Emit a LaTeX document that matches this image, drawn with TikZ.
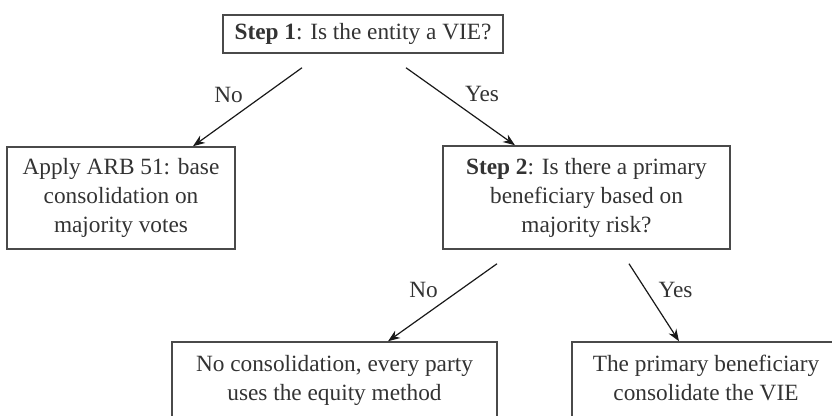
\documentclass[tikz,border=0pt]{standalone}
\usepackage{fontspec}
\setmainfont{Liberation Serif}
\usetikzlibrary{arrows.meta}
\definecolor{ink}{HTML}{333333}
\definecolor{frame}{HTML}{4A4A4A}
\newcommand{\stepword}[1]{\textbf{#1}}
% top-aligned text for the boxes cut off at the bottom
\newcommand{\topbox}[2]{\parbox[c][51pt][t]{#1}{\centering\rule{0pt}{15pt}#2}}

\begin{document}
\begin{tikzpicture}[x=0.5pt, y=-0.5pt,
  box/.style={draw=frame, line width=0.75pt, align=center, inner sep=0pt,
              font=\fontsize{11.65}{14.5}\selectfont, text=ink},
  arr/.style={-{Stealth[length=6pt,width=4.5pt]}, line width=0.6pt, draw=black!90},
  lbl/.style={font=\fontsize{11.65}{14.5}\selectfont, text=ink, midway, inner sep=2pt}]
  \useasboundingbox (0,0) rectangle (832,416);

  \node[box, minimum width=140pt, minimum height=19pt] (step1) at (363,34)
    {\stepword{Step 1}: Is the entity a VIE?};
  \node[box, minimum width=114pt, minimum height=51pt] (apply) at (121,198)
    {Apply ARB 51: base\\consolidation on\\majority votes};
  \node[box, minimum width=143.5pt, minimum height=51.5pt] (step2) at (586.5,197.5)
    {\stepword{Step 2}: Is there a primary\\beneficiary based on\\majority risk?};
  \node[box] (noconsol) at (334.5,393)
    {\topbox{162.5pt}{No consolidation, every party\\uses the equity method}};
  \node[box] (primary) at (706,393)
    {\topbox{134pt}{The primary beneficiary\\consolidate the VIE}};

  \draw[arr] ([shift={(-61,14)}]step1.south) -- ([shift={(72,0)}]apply.north)
    node[lbl, above left] {No};
  \draw[arr] ([shift={(43,14)}]step1.south) -- ([shift={(-71.5,0)}]step2.north)
    node[lbl, above right] {Yes};
  \draw[arr] ([shift={(-89.5,14)}]step2.south) -- ([shift={(53.5,0)}]noconsol.north)
    node[lbl, above left] {No};
  \draw[arr] ([shift={(42.5,14)}]step2.south) -- ([shift={(-27,0)}]primary.north)
    node[lbl, above right] {Yes};
\end{tikzpicture}
\end{document}
